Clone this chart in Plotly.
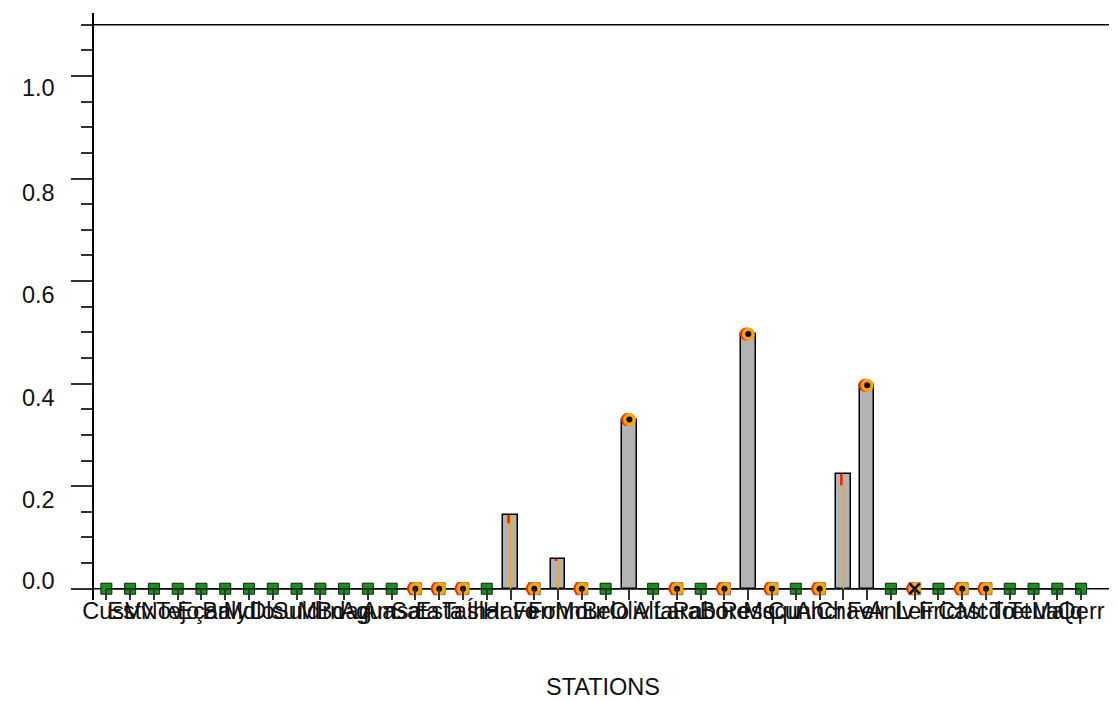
import plotly.graph_objects as go

# ---------------- data ----------------
stations = ["Cust", "Estv", "VNov", "Tejo", "Eçar", "Baly", "Mdlo", "Dlsu", "Suld", "Mirn",
            "Bdag", "Agua", "Amsa", "Sata", "Esta", "Tasl", "Íhar", "Havo", "Ferr", "Fonm",
            "Mour", "Belo", "Oliv", "Alfa", "Lara", "Rabo", "Bore", "Resq", "Msqu", "Cunh",
            "Ancr", "Chav", "Feir", "Anlv", "Leir", "Fric", "Cast", "Mcdo", "Tret", "Teua",
            "Malq", "Qerr"]
values = [0, 0, 0, 0, 0, 0, 0, 0, 0, 0,
          0, 0, 0, 0, 0, 0, 0, 0.144, 0, 0.058,
          0, 0, 0.330, 0, 0, 0, 0, 0.497, 0, 0,
          0, 0.224, 0.397, 0, 0, 0, 0, 0, 0, 0,
          0, 0]
# G = not detected (green), O = detected circle, X = cross, R = bar with range, C = bar with circle
kinds = ["G", "G", "G", "G", "G", "G", "G", "G", "G", "G",
         "G", "G", "G", "O", "O", "O", "G", "R", "O", "R",
         "O", "G", "C", "G", "O", "G", "O", "C", "O", "G",
         "O", "R", "C", "G", "X", "G", "O", "O", "G", "G",
         "G", "G"]
range_low = [None] * 17 + [0.1275, None, 0.054] + [None] * 11 + [0.2017] + [None] * 10
ytick_vals = [0.0, 0.2, 0.4, 0.6, 0.8, 1.0]
ytick_text = ["0.0", "0.2", "0.4", "0.6", "0.8", "1.0"]

# ---------------- styles ----------------
FONT = "Liberation Sans, Arial, sans-serif"
FS = 23.5
TXT = "#111111"
GREEN = "#0a9a0a"
ORANGE = "#ffa500"
RED = "#ff1a00"
GREY = "#b3b3b3"
X_RANGE = [-0.52, 42.3]
Y_RANGE = [-0.022, 1.123]
SHIFT = 0.085  # red fringe drawn ~2px left

N = len(stations)
idx = list(range(N))

fig = go.Figure()

# bars
bx = [i for i in idx if values[i] > 0]
fig.add_bar(x=bx, y=[values[i] for i in bx], width=0.61,
            marker=dict(color=GREY, line=dict(color="black", width=1.5)),
            hoverinfo="skip")

# green squares (non detected)
g = [i for i in idx if kinds[i] == "G"]
fig.add_scatter(x=g, y=[values[i] for i in g], mode="markers",
                marker=dict(symbol="square", size=11, color=GREEN,
                            line=dict(color="#1a1a1a", width=1)))

# square frames behind zero-level detections
o = [i for i in idx if kinds[i] in ("O", "X")]
fig.add_scatter(x=o, y=[values[i] for i in o], mode="markers",
                marker=dict(symbol="square", size=12, color=ORANGE,
                            line=dict(color="#777777", width=1)))

# baseline through the stations
fig.add_scatter(x=idx, y=[0] * N, mode="lines",
                line=dict(color="black", width=1.5), hoverinfo="skip")

# orange range line inside bars
rx, ry = [], []
for i in idx:
    if kinds[i] == "R":
        rx += [i, i, None]
        ry += [0, values[i], None]
fig.add_scatter(x=rx, y=ry, mode="lines", line=dict(color=ORANGE, width=1.5),
                hoverinfo="skip")

# red parts (shifted axis x2)
c = [i for i in idx if kinds[i] in ("O", "X", "C")]
fig.add_scatter(x=c, y=[values[i] for i in c], mode="markers", xaxis="x2",
                marker=dict(symbol="circle", size=13, color=RED, line=dict(width=0)))
sx, sy = [], []
for i in idx:
    if kinds[i] == "R":
        sx += [i, i, None]
        sy += [range_low[i], values[i], None]
fig.add_scatter(x=sx, y=sy, mode="lines", xaxis="x2",
                line=dict(color=RED, width=2.5), hoverinfo="skip")

# orange circles + black dots / cross (axis x3, unshifted)
fig.add_scatter(x=c, y=[values[i] for i in c], mode="markers", xaxis="x3",
                marker=dict(symbol="circle", size=13, color=ORANGE, line=dict(width=0)))
d = [i for i in idx if kinds[i] in ("O", "C")]
fig.add_scatter(x=d, y=[values[i] for i in d], mode="markers", xaxis="x3",
                marker=dict(symbol="circle", size=6, color="black", line=dict(width=0)))
xx = [i for i in idx if kinds[i] == "X"]
fig.add_scatter(x=xx, y=[values[i] for i in xx], mode="markers", xaxis="x3",
                marker=dict(symbol="x-thin", size=10, color="black",
                            line=dict(color="black", width=2.5)))

# dummy on right axis so it is drawn
fig.add_scatter(x=[0], y=[0], yaxis="y2", mode="markers",
                marker=dict(size=1, opacity=0), hoverinfo="skip")

# y tick labels as annotations (offset like the reference)
yshifts = [8, -13.5, -14.5, -13.5, -14, -12]
annotations = []
for v, t, s in zip(ytick_vals, ytick_text, yshifts):
    annotations.append(dict(x=0, xref="paper", y=v, yref="y", text=t,
                            showarrow=False, xanchor="right", yanchor="middle",
                            xshift=-37, yshift=s,
                            font=dict(family=FONT, size=FS, color=TXT)))

fig.update_layout(
    template="none",
    width=1117, height=701,
    margin=dict(l=86, r=13, t=5, b=109, autoexpand=False),
    paper_bgcolor="white",
    plot_bgcolor="rgba(0,0,0,0)",
    showlegend=False,
    bargap=0,
    font=dict(family=FONT, size=FS, color=TXT),
    xaxis=dict(range=X_RANGE, tickmode="array", tickvals=idx, ticktext=stations,
               ticks="inside", ticklen=11, tickwidth=1.5, tickcolor="#333333",
               tickangle=0, showline=False, showgrid=False, zeroline=False,
               automargin=False, ticklabelstandoff=-6,
               tickfont=dict(family=FONT, size=FS, color=TXT),
               title=dict(text="STATIONS", standoff=56,
                          font=dict(family=FONT, size=FS, color=TXT))),
    xaxis2=dict(range=[X_RANGE[0] + SHIFT, X_RANGE[1] + SHIFT], overlaying="x",
                visible=False),
    xaxis3=dict(range=X_RANGE, overlaying="x", visible=False),
    yaxis=dict(range=Y_RANGE, tickmode="linear", tick0=0, dtick=0.2,
               ticks="outside", ticklen=21, tickwidth=1.5, tickcolor="#333333",
               showticklabels=False, showline=True, linecolor="black", linewidth=1.5,
               showgrid=False, zeroline=False, automargin=False,
               minor=dict(tick0=0, dtick=0.05, ticks="outside", ticklen=11,
                          tickwidth=1.5, tickcolor="#333333", showgrid=False)),
    yaxis2=dict(range=Y_RANGE, overlaying="y", side="right", tickmode="linear",
                tick0=0, dtick=0.2, ticks="outside", ticklen=12, tickwidth=1.5,
                tickcolor="#333333", showticklabels=False, showline=True,
                linecolor="black", linewidth=1.5, showgrid=False, zeroline=False,
                automargin=False,
                minor=dict(tick0=0, dtick=0.05, ticks="outside", ticklen=10,
                           tickwidth=1.5, tickcolor="#333333", showgrid=False)),
    annotations=annotations,
    shapes=[
        dict(type="line", xref="paper", yref="y", x0=-0.0206, x1=1.0128, y0=0, y1=0,
             line=dict(color="black", width=1.5), layer="below"),
        dict(type="line", xref="paper", yref="y", x0=0, x1=1.006, y0=1.1, y1=1.1,
             line=dict(color="black", width=1.5), layer="above"),
    ],
)

fig.write_html("out.html")
